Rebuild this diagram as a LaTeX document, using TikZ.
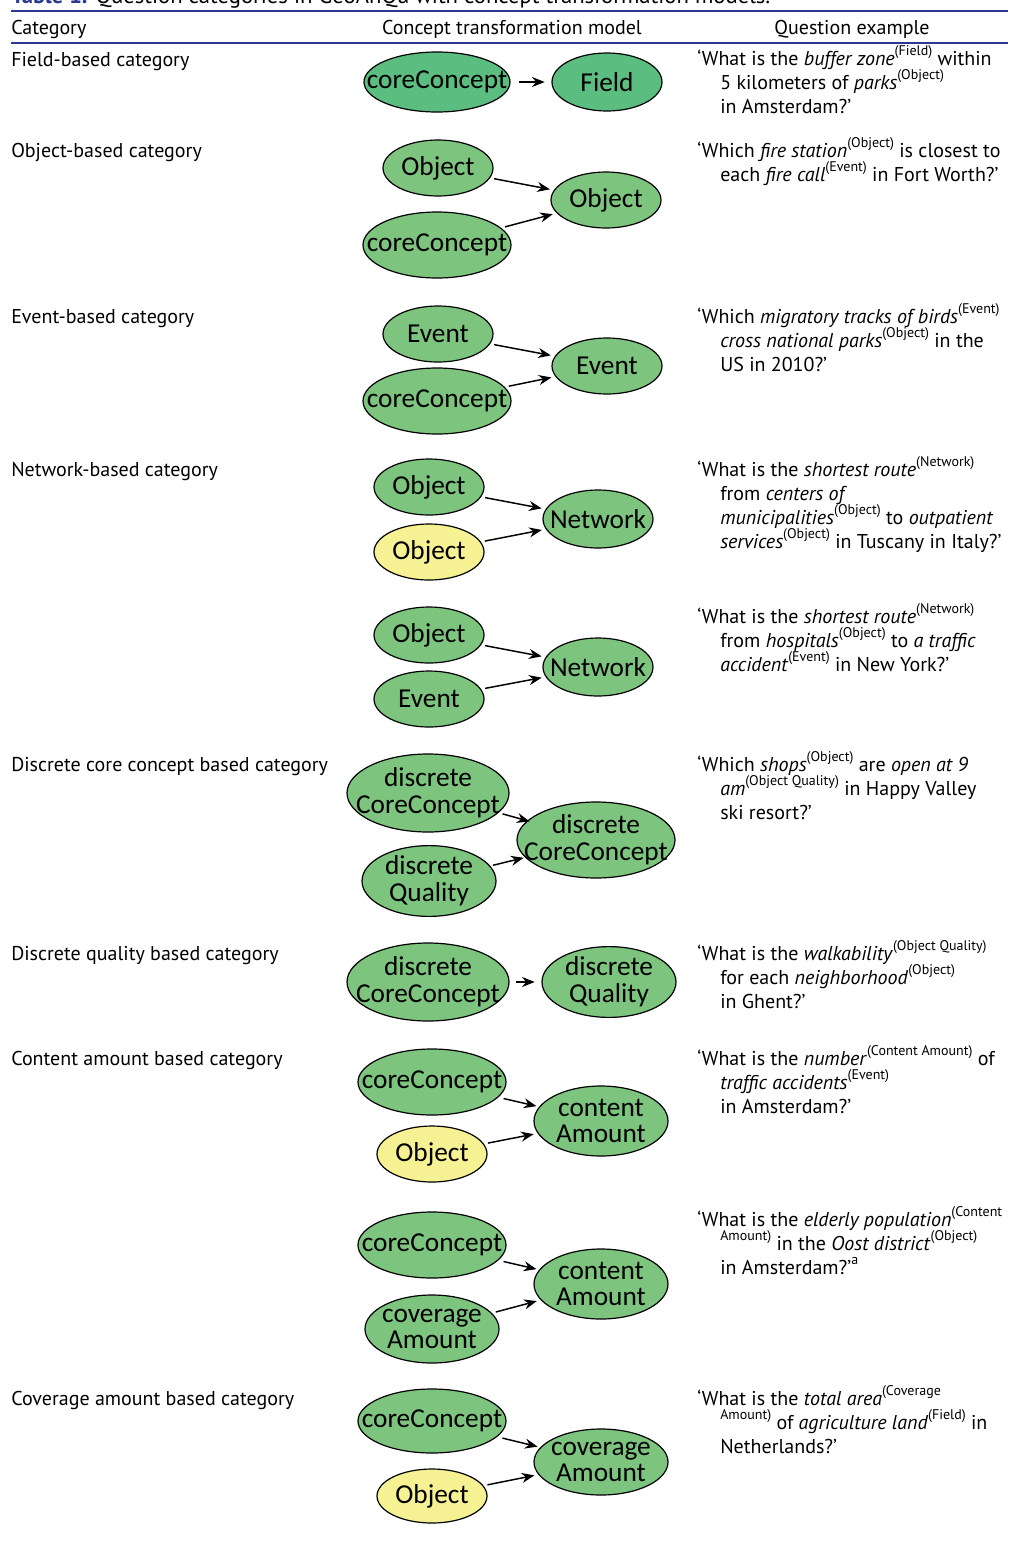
\documentclass[tikz,border=0pt]{standalone}
\usepackage{fontspec}
\setmainfont{PT Sans}
\newfontfamily\elfont{Carlito}
\usetikzlibrary{shapes.geometric,arrows.meta}
\definecolor{rulebl}{HTML}{2B3990}
\definecolor{gA}{HTML}{5BBE80}
\definecolor{gB}{HTML}{7DC47F}
\definecolor{yl}{HTML}{F6F193}
\newcommand{\sx}[1]{\raisebox{0.5em}{\fontsize{10.5}{10}\selectfont\upshape #1}}
\newcommand{\zb}[1]{\makebox[0pt]{#1}}
\tikzset{
  el/.style={ellipse, draw=black, line width=0.9pt, inner sep=0pt, fill=gB,
    font=\elfont\fontsize{20.5}{20}\selectfont, align=center},
  sz/.style 2 args={minimum width=#1*1.5pt, minimum height=#2*1.5pt},
  ar/.style={-{Stealth[length=9.5pt,width=7.5pt]}, line width=1.1pt, shorten <=3pt, shorten >=3pt},
  txt/.style={anchor=base west, inner sep=0pt, font=\fontsize{15}{18}\selectfont},
  hd/.style={anchor=base, inner sep=0pt, font=\fontsize{15}{18}\selectfont},
  rl/.style={draw=rulebl},
}
\begin{document}
\begin{tikzpicture}[x=0.75pt,y=-0.75pt]
\useasboundingbox (0,0) rectangle (1010,1543);
% title (cut at top)
\node[anchor=base west, inner sep=0pt, font=\fontsize{17}{20}\selectfont] (title) at (11,3) {\textcolor{rulebl}{\textbf{Table 1.}} Question categories in GeoAnQu with concept transformation models.};
% rules
\coordinate (r1a) at (11,11); \coordinate (r1b) at (1008,11);
\coordinate (r2a) at (11,43); \coordinate (r2b) at (1008,43);
\draw[rl, line width=2pt] (r1a) -- (r1b);
\draw[rl, line width=1.4pt] (r2a) -- (r2b);
% header
\node[txt] (hcat) at (11,34) {Category};
\node[hd] (hmod) at (512,34) {Concept transformation model};
\node[hd] (hq) at (852,34) {Question example};

% ---------- categories ----------
\node[txt] (c1) at (11,66) {Field-based category};
\node[txt] (c2) at (11,157) {Object-based category};
\node[txt] (c3) at (11,323) {Event-based category};
\node[txt] (c4) at (11,476) {Network-based category};
\node[txt] (c6) at (11,771) {Discrete core concept based category};
\node[txt] (c7) at (11,960) {Discrete quality based category};
\node[txt] (c8) at (11,1065) {Content amount based category};
\node[txt] (c10) at (11,1405) {Coverage amount based category};

% ---------- row 1 ----------
\node[el, fill=gA, sz={73}{30}] (a1) at (437,82) {\zb{coreConcept}};
\node[el, fill=gA, sz={55}{29}] (b1) at (607,82) {\zb{Field}};
\draw[ar, shorten <=6pt, shorten >=5pt] (a1) -- (b1);
\node[txt] (q1a) at (697,65) {‘What is the \textit{buffer zone}\sx{(Field)} within};
\node[txt] (q1b) at (720,89) {5 kilometers of \textit{parks}\sx{(Object)}};
\node[txt] (q1c) at (720,113) {in Amsterdam?’};

% ---------- row 2 ----------
\node[el, sz={55}{28}] (a2) at (438,168) {\zb{Object}};
\node[el, sz={74}{33}] (b2) at (437,245) {\zb{coreConcept}};
\node[el, sz={55}{28}] (t2) at (606,200) {\zb{Object}};
\draw[ar] (a2) -- (t2);
\draw[ar] (b2) -- (t2);
\node[txt] (q2a) at (697,157) {‘Which \textit{fire station}\sx{(Object)} is closest to};
\node[txt] (q2b) at (720,181) {each \textit{fire call}\sx{(Event)} in Fort Worth?’};

% ---------- row 3 ----------
\node[el, sz={55}{28}] (a3) at (438,334) {\zb{Event}};
\node[el, sz={74}{33}] (b3) at (437,401) {\zb{coreConcept}};
\node[el, sz={55}{28}] (t3) at (607,366) {\zb{Event}};
\draw[ar] (a3) -- (t3);
\draw[ar] (b3) -- (t3);
\node[txt] (q3a) at (697,323) {‘Which \textit{migratory tracks of birds}\sx{(Event)}};
\node[txt] (q3b) at (720,347) {\textit{cross national parks}\sx{(Object)} in the};
\node[txt] (q3c) at (720,371) {US in 2010?’};

% ---------- row 4 ----------
\node[el, sz={55}{28}] (a4) at (429,487) {\zb{Object}};
\node[el, fill=yl, sz={55}{28}] (b4) at (429,552) {\zb{Object}};
\node[el, sz={55}{29}] (t4) at (598,519) {\zb{Network}};
\draw[ar] (a4) -- (t4);
\draw[ar] (b4) -- (t4);
\node[txt] (q4a) at (697,476) {‘What is the \textit{shortest route}\sx{(Network)}};
\node[txt] (q4b) at (720,500) {from \textit{centers of}};
\node[txt] (q4c) at (720,524) {\textit{municipalities}\sx{(Object)} to \textit{outpatient}};
\node[txt] (q4d) at (720,548) {\textit{services}\sx{(Object)} in Tuscany in Italy?’};

% ---------- row 5 ----------
\node[el, sz={55}{28}] (a5) at (429,635) {\zb{Object}};
\node[el, sz={55}{28}] (b5) at (429,699) {\zb{Event}};
\node[el, sz={55}{29}] (t5) at (598,667) {\zb{Network}};
\draw[ar] (a5) -- (t5);
\draw[ar] (b5) -- (t5);
\node[txt] (q5a) at (697,623) {‘What is the \textit{shortest route}\sx{(Network)}};
\node[txt] (q5b) at (720,647) {from \textit{hospitals}\sx{(Object)} to \textit{a traffic}};
\node[txt] (q5c) at (720,671) {\textit{accident}\sx{(Event)} in New York?’};

% ---------- row 6 ----------
\node[el, sz={81}{39}] (a6) at (428,793) {\zb{discrete}\\\zb{CoreConcept}};
\node[el, sz={67}{34}] (b6) at (429,881) {\zb{discrete}\\\zb{Quality}};
\node[el, sz={79}{38}] (t6) at (596,840) {\zb{discrete}\\\zb{CoreConcept}};
\draw[ar, shorten <=3pt, shorten >=-2pt] (a6) -- (t6);
\draw[ar, shorten <=2pt, shorten >=1pt] (b6) -- (t6);
\node[txt] (q6a) at (697,771) {‘Which \textit{shops}\sx{(Object)} are \textit{open at 9}};
\node[txt] (q6b) at (720,795) {\textit{am}\sx{(Object Quality)} in Happy Valley};
\node[txt] (q6c) at (720,819) {ski resort?’};

% ---------- row 7 ----------
\node[el, sz={81}{39}] (a7) at (428,982) {\zb{discrete}\\\zb{CoreConcept}};
\node[el, sz={67}{35}] (t7) at (609,982) {\zb{discrete}\\\zb{Quality}};
\draw[ar, shorten <=5pt, shorten >=5pt] (a7) -- (t7);
\node[txt] (q7a) at (697,960) {‘What is the \textit{walkability}\sx{(Object Quality)}};
\node[txt] (q7b) at (720,984) {for each \textit{neighborhood}\sx{(Object)}};
\node[txt] (q7c) at (720,1008) {in Ghent?’};

% ---------- row 8 ----------
\node[el, sz={74}{33}] (a8) at (432,1082) {\zb{coreConcept}};
\node[el, fill=yl, sz={55}{28}] (b8) at (432,1154) {\zb{Object}};
\node[el, sz={67}{35}] (t8) at (601,1121) {\zb{content}\\\zb{Amount}};
\draw[ar, shorten <=4pt, shorten >=2pt] (a8) -- (t8);
\draw[ar] (b8) -- (t8);
\node[txt] (q8a) at (697,1065) {‘What is the \textit{number}\sx{(Content Amount)} of};
\node[txt] (q8b) at (720,1089) {\textit{traffic accidents}\sx{(Event)}};
\node[txt] (q8c) at (720,1113) {in Amsterdam?’};

% ---------- row 9 ----------
\node[el, sz={74}{33}] (a9) at (432,1245) {\zb{coreConcept}};
\node[el, sz={67}{34}] (b9) at (432,1329) {\zb{coverage}\\\zb{Amount}};
\node[el, sz={67}{35}] (t9) at (601,1284) {\zb{content}\\\zb{Amount}};
\draw[ar, shorten <=4pt, shorten >=2pt] (a9) -- (t9);
\draw[ar] (b9) -- (t9);
\node[txt] (q9a) at (697,1226) {‘What is the \textit{elderly population}\sx{(Content}};
\node[txt] (q9b) at (720,1250) {\sx{Amount)} in the \textit{Oost district}\sx{(Object)}};
\node[txt] (q9c) at (720,1274) {in Amsterdam?’\sx{a}};

% ---------- row 10 ----------
\node[el, sz={74}{32}] (a10) at (432,1421) {\zb{coreConcept}};
\node[el, fill=yl, sz={55}{27}] (b10) at (432,1496) {\zb{Object}};
\node[el, sz={67}{33}] (t10) at (601,1462) {\zb{coverage}\\\zb{Amount}};
\draw[ar, shorten <=4pt, shorten >=2pt] (a10) -- (t10);
\draw[ar] (b10) -- (t10);
\node[txt] (q10a) at (697,1405) {‘What is the \textit{total area}\sx{(Coverage}};
\node[txt] (q10b) at (720,1429) {\sx{Amount)} of \textit{agriculture land}\sx{(Field)} in};
\node[txt] (q10c) at (720,1453) {Netherlands?’};
\end{tikzpicture}
\end{document}
